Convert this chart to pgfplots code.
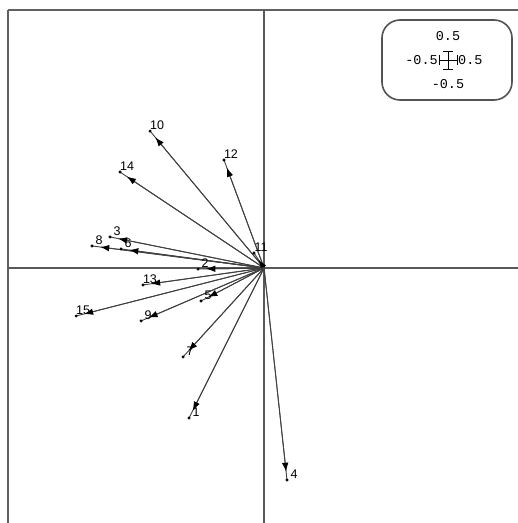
\documentclass[border=0pt]{standalone}
\usepackage{pgfplots}
\pgfplotsset{compat=1.18}
\usepackage{pgfplotstable}
\usetikzlibrary{arrows.meta}
\usepackage{fontspec}
\setmainfont{Liberation Sans}
\newfontfamily\scalefont{Liberation Mono}

% variable loadings on the first two axes
\pgfplotstableread{
lab  x       y
10   -7.60   9.13
12   -2.67   7.20
14   -9.60   6.40
3    -10.27  2.07
8    -11.47  1.47
6    -9.53   1.27
11   -0.67   1.00
2    -4.40  -0.07
13   -8.07  -1.13
15   -12.53 -3.20
9    -8.20  -3.53
5    -4.20  -2.20
7    -5.40  -5.93
1    -5.00  -10.00
4     1.53  -14.13
}\loadtab

\newcommand\lfont{\fontsize{12.5}{14}\selectfont}
\newcommand\sfont{\scalefont\fontsize{13.5}{15}\selectfont}

\begin{document}
\begin{tikzpicture}
\begin{axis}[
  name=ax, at={(0,0)}, anchor=south west,
  scale only axis, width=510pt, height=513pt,
  xmin=-17.07, xmax=16.93, ymin=-17.0, ymax=17.2,
  axis x line=top, axis y line=left,
  axis line style={-, draw=gray!75!black, line width=1.8pt},
  xtick=\empty, ytick=\empty,
  clip=false,
]
% axes through the origin
\addplot[gray!70!black, line width=1.5pt] coordinates {(-17.07,0) (16.93,0)};
\addplot[gray!70!black, line width=1.5pt] coordinates {(0,-17.0) (0,17.2)};
% shafts from the origin to each end point
\addplot[quiver={u=\thisrow{x}, v=\thisrow{y}},
  draw=black!75, line width=0.9pt, -]
  table[x expr=0, y expr=0] {\loadtab};
% heads, set back a little from the end point
\addplot[quiver={
    u=\thisrow{x}*(1-0.55/sqrt(\thisrow{x}^2+\thisrow{y}^2)),
    v=\thisrow{y}*(1-0.55/sqrt(\thisrow{x}^2+\thisrow{y}^2))},
  draw=black!75, line width=0.9pt,
  -{Latex[length=9pt,width=6.5pt,color=black]}]
  table[x expr=0, y expr=0] {\loadtab};
% end points and labels
\addplot[only marks, mark=*, mark size=1.3pt, black,
  nodes near coords, point meta=explicit symbolic,
  nodes near coords style={anchor=center, xshift=7pt, yshift=6pt,
    font=\lfont, text=black, inner sep=0pt}]
  table[x=x, y=y, meta=lab] {\loadtab};
\end{axis}
% scale box
\begin{scope}[shift={(ax.north west)}]
  \draw[line width=1.6pt, gray!65!black, rounded corners=18pt]
    (374pt,-10pt) rectangle (504pt,-90pt);
  \node[font=\sfont] at (440pt,-26pt) {0.5};
  \node[font=\sfont, anchor=east, inner sep=1pt] at (431pt,-50pt) {-0.5};
  \node[font=\sfont, anchor=west, inner sep=1pt] at (449pt,-50pt) {0.5};
  \node[font=\sfont] at (440pt,-74pt) {-0.5};
  \draw[line width=0.9pt] (431pt,-50pt) -- (449pt,-50pt)
    (431pt,-45pt) -- (431pt,-55pt) (449pt,-45pt) -- (449pt,-55pt)
    (440pt,-41pt) -- (440pt,-59pt)
    (435pt,-41pt) -- (445pt,-41pt) (435pt,-59pt) -- (445pt,-59pt);
\end{scope}
\pgfresetboundingbox
\path ([xshift=-8pt]ax.south west) rectangle ([yshift=10pt]ax.north east);
\end{tikzpicture}
\end{document}
